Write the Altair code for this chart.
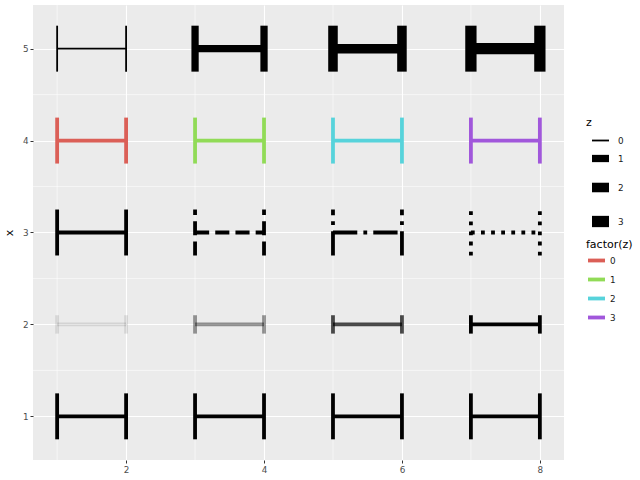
import altair as alt
import pandas as pd

# ---- data ----
xmin = [1, 3, 5, 7]
xmax = [2, 4, 6, 8]
zvals = [0, 1, 2, 3]
rows = [1, 2, 3, 4, 5]
row_height = [0.25, 0.1, 0.25, 0.25, 0.25]
alphas = [0.1, 0.4, 0.7, 1.0]
linetypes = ["solid", "dashed", "dashdot", "dotted"]
factor_colors = ["#db5f57", "#91db57", "#57d3db", "#a157db"]
x_ticks = [2, 4, 6, 8]
y_ticks = [1, 2, 3, 4, 5]
x_minor = [1, 3, 5, 7]
y_minor = [1.5, 2.5, 3.5, 4.5]

# ---- styles ----
LW = 3.8
SIZE_RANGE = [1.8, 11.3]
dash_patterns = {
    "dashed": [14.1, 6.1],
    "dashdot": [24.3, 6.1, 3.8, 6.1],
    "dotted": [3.8, 6.3],
}

recs = []
for r, h in zip(rows, row_height):
    for i, z in enumerate(zvals):
        lo, hi = xmin[i], xmax[i]
        base = dict(row=r, z=z, alpha=alphas[i], lt=linetypes[i])
        recs.append({**base, "x": lo, "x2": hi, "y": r, "y2": r})
        recs.append({**base, "x": lo, "x2": lo, "y": r - h, "y2": r + h})
        recs.append({**base, "x": hi, "x2": hi, "y": r - h, "y2": r + h})
df = pd.DataFrame(recs)

xscale = alt.Scale(domain=[0.65, 8.35], nice=False, zero=False)
yscale = alt.Scale(domain=[0.525, 5.475], nice=False, zero=False)

xaxis = alt.Axis(values=x_ticks, format="d", title=None)
yaxis = alt.Axis(values=y_ticks, format="d", title="x", titlePadding=8)

base = alt.Chart(df).encode(
    x=alt.X("x:Q", scale=xscale, axis=xaxis),
    x2="x2:Q",
    y=alt.Y("y:Q", scale=yscale, axis=yaxis),
    y2="y2:Q",
)

grid_x = alt.Chart(pd.DataFrame({"x": x_minor})).mark_rule(
    color="white", strokeWidth=0.55
).encode(x=alt.X("x:Q", scale=xscale, axis=xaxis))
grid_y = alt.Chart(pd.DataFrame({"y": y_minor})).mark_rule(
    color="white", strokeWidth=0.55
).encode(y=alt.Y("y:Q", scale=yscale, axis=yaxis))

row1 = base.transform_filter("datum.row == 1").mark_rule(color="black", strokeWidth=LW)

row2 = base.transform_filter("datum.row == 2").mark_rule(color="black", strokeWidth=LW).encode(
    opacity=alt.Opacity("alpha:Q", scale=None, legend=None)
)

row3_layers = []
for lt in linetypes:
    m = base.transform_filter(f"datum.row == 3 && datum.lt == '{lt}'")
    if lt in dash_patterns:
        m = m.mark_rule(color="black", strokeWidth=LW, strokeDash=dash_patterns[lt])
    else:
        m = m.mark_rule(color="black", strokeWidth=LW)
    row3_layers.append(m)

row4 = base.transform_filter("datum.row == 4").mark_rule(strokeWidth=LW).encode(
    color=alt.Color(
        "z:N",
        title="factor(z)",
        scale=alt.Scale(domain=zvals, range=factor_colors),
        legend=alt.Legend(
            orient="none", legendX=553, legendY=234,
            symbolType="stroke", symbolStrokeWidth=LW, symbolSize=289,
            titlePadding=0, rowPadding=-2,
        ),
    )
)

row5 = base.transform_filter("datum.row == 5").mark_rule(color="black").encode(
    strokeWidth=alt.StrokeWidth(
        "z:Q",
        title="z",
        scale=alt.Scale(type="sqrt", domain=[0, 3], range=SIZE_RANGE),
        legend=alt.Legend(
            orient="none", legendX=553, legendY=112,
            values=zvals, format="d",
            symbolType="stroke", symbolStrokeColor="black", symbolSize=289,
            titlePadding=3, rowPadding=-13,
        ),
    )
)

chart = alt.layer(
    grid_x, grid_y, row1, row2, *row3_layers, row4, row5
).properties(
    width=531,
    height=455,
    autosize=alt.AutoSizeParams(type="none"),
    padding={"left": 33, "top": 5, "right": 76, "bottom": 20},
).configure_view(
    fill="#ebebeb", strokeWidth=0
).configure_axis(
    domain=False, grid=True, gridColor="white", gridWidth=1.1,
    tickColor="#333333", tickSize=3, tickWidth=1,
    labelColor="#4d4d4d", labelFontSize=8.8, labelFont="DejaVu Sans",
    labelPadding=2,
    titleFont="DejaVu Sans", titleFontSize=11, titleFontWeight="normal", titleColor="black",
).configure_legend(
    padding=0,
    titleFont="DejaVu Sans", titleFontSize=11, titleFontWeight="normal", titleColor="black",
    labelFont="DejaVu Sans", labelFontSize=8.8, labelColor="#1a1a1a", labelOffset=3,
)

chart.save("out.html", embed_options={"renderer": "svg", "actions": False})
